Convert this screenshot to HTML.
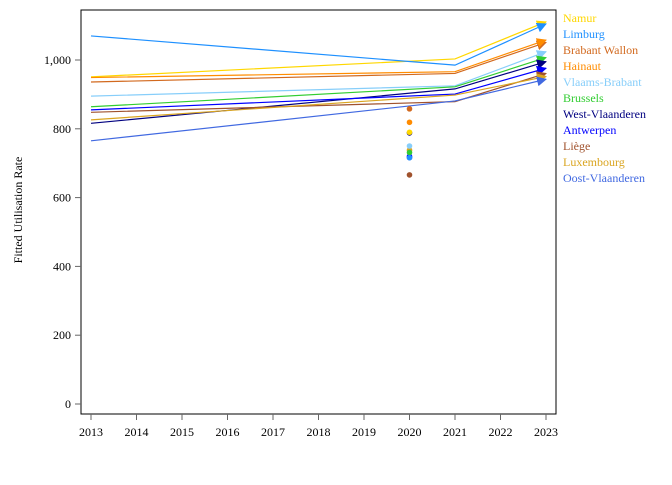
<!DOCTYPE html>
<html><head><meta charset="utf-8"><style>
body{margin:0;background:#fff}
svg text{font-family:"Liberation Serif",serif;font-size:12px}
</style></head><body>
<svg width="672" height="480">
<defs id="defs"></defs>
<rect x="81" y="10" width="475" height="404" fill="none" stroke="#000" stroke-width="1"/>
<g id="axes"></g><g id="series"></g><g id="dots"></g><g id="legend"></g>
<text x="22" y="210" transform="rotate(-90 22 210)" text-anchor="middle">Fitted Utilisation Rate</text>
</svg>
<script>
const years=[2013,2014,2015,2016,2017,2018,2019,2020,2021,2022,2023];
const yTicks=[0,200,400,600,800,1000];
const regions=["Namur","Limburg","Brabant Wallon","Hainaut","Vlaams-Brabant","Brussels","West-Vlaanderen","Antwerpen","Liège","Luxembourg","Oost-Vlaanderen"];
const colors=["#FFD700","#1E90FF","#D2691E","#FF8C00","#87CEFA","#32CD32","#000080","#0000FF","#A0522D","#DAA520","#4169E1"];
const v2013=[951,1070,936,949,895,864,816,855,848,826,765];
const v2021=[1003,985,961,966,925,922,916,901,879,898,881];
const v2023=[1111,1105,1051,1058,1024,1007,995,976,961,952,944];
const v2020=[790,716,858,819,750,731,788,720,666,738,716];
const NS="http://www.w3.org/2000/svg";
const X=y=>91+(y-2013)*45.5;
const Y=v=>404-v*0.344;
function mk(t,a,p){const e=document.createElementNS(NS,t);for(const k in a)e.setAttribute(k,a[k]);p.appendChild(e);return e;}
const ax=document.getElementById('axes');
years.forEach(y=>{
 const t=mk('line',{x1:X(y),x2:X(y),y1:414,y2:420,stroke:'#666'},ax);
 
 
 const l=mk('text',{x:X(y),y:436,'text-anchor':'middle'},ax);l.textContent=y;
 
 
});
yTicks.forEach(v=>{
 const t=mk('line',{x1:75,x2:81,y1:Y(v),y2:Y(v),stroke:'#666'},ax);
 
 
 const l=mk('text',{x:71,y:Y(v)+4,'text-anchor':'end'},ax);l.textContent=v.toLocaleString('en-US');
 
 
});
const defs=document.getElementById('defs'),sg=document.getElementById('series'),dg=document.getElementById('dots'),lg=document.getElementById('legend');
regions.forEach((r,i)=>{
 const m=mk('marker',{id:'m'+i,viewBox:'0 0 10 10',refX:9,refY:5,markerWidth:10,markerHeight:10,orient:'auto',markerUnits:'userSpaceOnUse'},defs);
 mk('path',{d:'M0,0 L10,5 L0,10 z',fill:colors[i]},m);
 const p=mk('polyline',{points:`${X(2013)},${Y(v2013[i])} ${X(2021)},${Y(v2021[i])} ${X(2023)},${Y(v2023[i])}`,fill:'none',stroke:colors[i],'stroke-width':1.2,'marker-end':`url(#m${i})`},sg);
 
 
 const t=mk('text',{x:563,y:22+i*16,fill:colors[i]},lg);t.textContent=r;
 
 
});
for(let i=regions.length-1;i>=0;i--){
 const c=mk('circle',{cx:X(2020),cy:Y(v2020[i]),r:2.8,fill:colors[i]},dg);
 
 
}
</script>
</body></html>
